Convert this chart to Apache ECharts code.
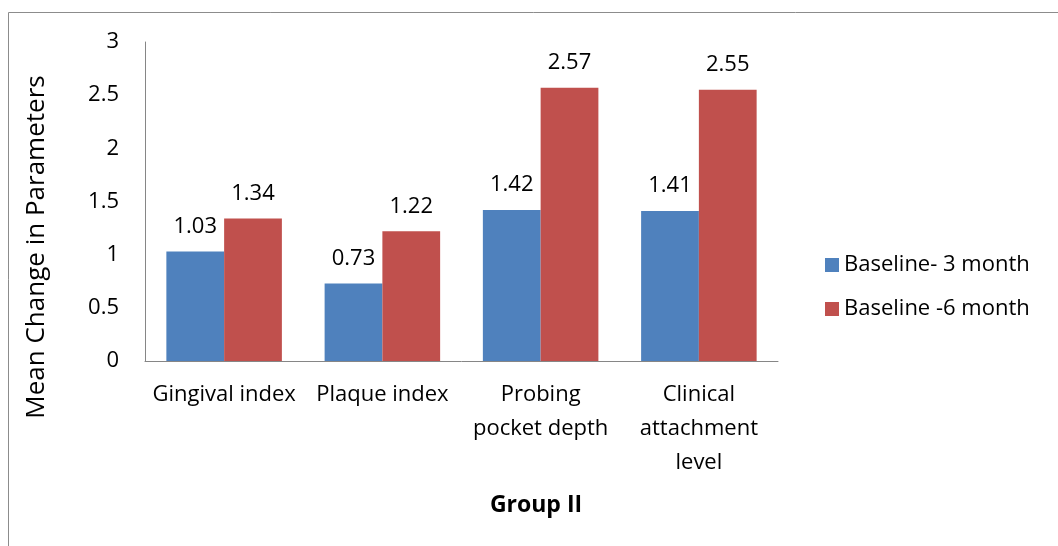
<!DOCTYPE html>
<html><head><meta charset="utf-8">
<script src="https://cdn.jsdelivr.net/npm/echarts@6/dist/echarts.min.js"></script>
<style>html,body{margin:0;padding:0;background:#fff}#c{width:1058px;height:546px}</style>
</head><body><div id="c"></div>
<script>
const categories = ["Gingival index", "Plaque index", "Probing\npocket depth", "Clinical\nattachment\nlevel"];
const seriesNames = ["Baseline- 3 month", "Baseline -6 month"];
const values3m = [1.03, 0.73, 1.42, 1.41];
const values6m = [1.34, 1.22, 2.57, 2.55];
const yTicks = [0, 0.5, 1, 1.5, 2, 2.5, 3];
const yTitle = 'Mean Change in Parameters';
const xTitle = 'Group II';

const FONT = "'Open Sans', 'Noto Sans', sans-serif";
const chart = echarts.init(document.getElementById('c'));
chart.setOption({
  animation: false,
  textStyle: {fontFamily: FONT},
  grid: {left: 145, right: 280, top: 42, bottom: 185},
  legend: {
    orient: 'vertical', left: 820, top: 249,
    itemWidth: 14, itemHeight: 14, itemGap: 22,
    icon: 'rect',
    textStyle: {fontSize: 22, color: '#000', fontFamily: FONT},
    data: seriesNames
  },
  xAxis: {
    type: 'category', data: categories,
    axisLine: {lineStyle: {color: '#868686', width: 1}},
    axisTick: {show: false},
    axisLabel: {fontSize: 22, color: '#000', lineHeight: 34, margin: 17, interval: 0, fontFamily: FONT}
  },
  yAxis: {
    type: 'value', min: 0, max: 3, interval: 0.5,
    axisLine: {show: true, lineStyle: {color: '#868686', width: 1}},
    axisTick: {show: false},
    splitLine: {show: false},
    axisLabel: {fontSize: 22, color: '#000', margin: 26, fontFamily: FONT,
      formatter: v => yTicks.includes(v) ? String(v) : ''}
  },
  series: [
    {name: seriesNames[0], type: 'bar', data: values3m, barGap: '0%', barCategoryGap: '27%',
     itemStyle: {color: '#4F81BD'},
     label: {show: true, position: 'top', distance: 14, fontSize: 22, color: '#000', fontFamily: FONT}},
    {name: seriesNames[1], type: 'bar', data: values6m, barGap: '0%', barCategoryGap: '27%',
     itemStyle: {color: '#C0504D'},
     label: {show: true, position: 'top', distance: 14, fontSize: 22, color: '#000', fontFamily: FONT}}
  ],
  graphic: [
    {type: 'line', shape: {x1: 8.5, y1: 12.5, x2: 1058, y2: 12.5}, style: {stroke: '#8c8c8c', lineWidth: 1}},
    {type: 'line', shape: {x1: 8.5, y1: 12.5, x2: 8.5, y2: 546}, style: {stroke: '#8c8c8c', lineWidth: 1}},
    {type: 'text', x: 37, y: 247, rotation: Math.PI / 2,
     style: {text: yTitle, font: "26px " + FONT, fill: '#000', x: 0, y: 0, textAlign: 'center', textVerticalAlign: 'middle'}},
    {type: 'text', style: {text: xTitle, font: "bold 23px " + FONT, fill: '#000', x: 536, y: 505, textAlign: 'center', textVerticalAlign: 'middle'}}
  ]
});
</script></body></html>
